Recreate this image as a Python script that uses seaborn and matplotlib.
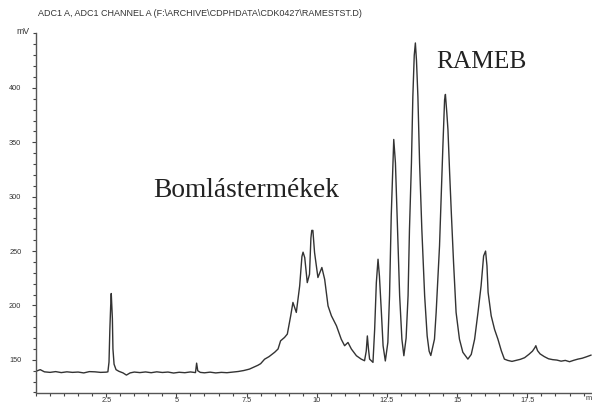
import matplotlib
matplotlib.use("Agg")
import matplotlib.pyplot as plt
from matplotlib.ticker import MultipleLocator, FixedLocator
import seaborn as sns
import pandas as pd

# Retention time (min) and detector signal (mV) of the RAMEB test run
time_min = [
    0.00, 0.15, 0.30, 0.50, 0.70, 0.90, 1.10, 1.30, 1.50, 1.70, 1.90, 2.10, 2.30, 2.50,
    2.56, 2.60, 2.63, 2.66, 2.68, 2.70, 2.72, 2.74, 2.78, 2.85, 2.95, 3.10, 3.22, 3.35,
    3.50, 3.70, 3.90, 4.10, 4.30, 4.50, 4.70, 4.90, 5.10, 5.30, 5.50, 5.68, 5.72, 5.76,
    5.85, 6.00, 6.20, 6.40, 6.60, 6.80, 7.00, 7.20, 7.40, 7.60, 7.73, 7.90, 8.00, 8.14,
    8.30, 8.50, 8.62, 8.71, 8.85, 8.95, 9.07, 9.15, 9.27, 9.39, 9.47, 9.51, 9.57, 9.66,
    9.74, 9.79, 9.82, 9.86, 9.92, 10.04, 10.18, 10.28, 10.40, 10.52, 10.70, 10.87, 10.99,
    11.11, 11.23, 11.41, 11.58, 11.70, 11.76, 11.80, 11.84, 11.88, 12.00, 12.06, 12.12,
    12.18, 12.23, 12.30, 12.36, 12.44, 12.53, 12.59, 12.65, 12.71, 12.74, 12.80, 12.86,
    12.95, 13.03, 13.10, 13.18, 13.25, 13.30, 13.37, 13.42, 13.47, 13.51, 13.55, 13.60,
    13.66, 13.74, 13.84, 13.93, 14.00, 14.06, 14.19, 14.25, 14.37, 14.43, 14.49, 14.55,
    14.58, 14.63, 14.67, 14.73, 14.79, 14.87, 14.96, 15.08, 15.20, 15.38, 15.50, 15.62,
    15.74, 15.85, 15.94, 16.01, 16.06, 16.10, 16.21, 16.33, 16.45, 16.57, 16.68, 16.80,
    16.95, 17.10, 17.25, 17.40, 17.55, 17.68, 17.76, 17.80, 17.86, 17.95, 18.10, 18.25,
    18.40, 18.55, 18.70, 18.85, 19.00, 19.15, 19.30, 19.45, 19.60, 19.77,
]
signal_mv = [
    139.5, 141.0, 139.0, 138.5, 139.2, 138.3, 139.0, 138.5, 138.8, 138.0, 139.2, 139.0, 138.5, 138.7,
    139.0, 148.0, 178.0, 200.0, 211.0, 200.0, 188.0, 160.0, 146.0, 141.0, 139.5, 138.0, 136.0, 138.0,
    138.8, 138.3, 138.9, 138.2, 139.0, 138.4, 138.8, 137.9, 138.6, 138.2, 138.9, 138.3, 147.0, 140.0,
    138.5, 138.1, 138.7, 138.0, 138.5, 138.2, 138.8, 139.3, 140.2, 141.5, 143.0, 145.0, 146.5, 150.6,
    153.0, 157.0, 160.0, 167.5, 170.6, 173.7, 190.5, 202.8, 193.6, 218.0, 245.0, 249.0, 244.0, 221.0,
    228.7, 262.0, 269.0, 269.0, 248.6, 225.7, 234.9, 224.0, 199.6, 190.5, 181.3, 169.0, 163.0,
    166.0, 160.0, 153.8, 150.7, 149.2, 158.0, 172.0, 160.0, 150.7, 147.7, 178.0, 221.0,
    242.5, 227.0, 193.6, 163.0, 149.0, 166.0, 209.0, 282.0, 331.0, 352.6, 331.0, 282.0,
    209.0, 169.0, 153.8, 170.0, 209.0, 270.0, 331.0, 392.0, 430.0, 441.3, 425.0, 392.0,
    331.0, 270.0, 209.0, 172.0, 158.0, 154.0, 169.0, 193.6, 254.7, 300.6, 346.4, 389.0,
    394.0, 377.0, 361.7, 322.0, 285.3, 239.4, 193.6, 169.0, 157.0, 150.7, 155.0, 169.0,
    193.6, 218.0, 245.5, 250.0, 236.3, 212.0, 190.5, 178.0, 169.0, 158.4, 150.7, 149.5,
    148.6, 149.5, 150.5, 152.0, 155.0, 158.0, 161.0, 163.0, 158.5, 155.5, 153.0, 151.0,
    150.2, 149.8, 148.8, 149.5, 148.3, 149.6, 150.7, 151.5, 152.8, 154.4,
]

x_major = [2.5, 5, 7.5, 10, 12.5, 15, 17.5]
x_labels = ["2.5", "5", "7.5", "10", "12.5", "15", "17.5"]
y_major = [150, 200, 250, 300, 350, 400]
y_labels = ["150", "200", "250", "300", "350", "400"]

header = r"ADC1 A, ADC1 CHANNEL A (F:\ARCHIVE\CDPHDATA\CDK0427\RAMESTST.D)"

df = pd.DataFrame({"time": time_min, "signal": signal_mv})

sns.set_style("ticks")
plt.rcParams["font.family"] = ["Liberation Sans", "DejaVu Sans"]

fig = plt.figure(figsize=(5.92, 4.05), dpi=100)
ax = fig.add_axes([36 / 592, 12.5 / 405, 556 / 592, 359 / 405])

sns.lineplot(data=df, x="time", y="signal", ax=ax, color="#333333",
             linewidth=1.0, estimator=None)

ax.set_xlim(0, 19.8)
ax.set_ylim(120, 450)
ax.set_xlabel("")
ax.set_ylabel("")

ax.xaxis.set_major_locator(FixedLocator(x_major))
ax.set_xticklabels(x_labels)
ax.xaxis.set_minor_locator(MultipleLocator(0.5))
ax.yaxis.set_major_locator(FixedLocator(y_major))
ax.set_yticklabels(y_labels)
ax.yaxis.set_minor_locator(MultipleLocator(10))

ax.tick_params(axis="both", which="major", length=3, width=0.8, color="#444444",
               labelsize=5.3, labelcolor="#333333")
ax.tick_params(axis="both", which="minor", length=2.5, width=0.8, color="#444444")
ax.tick_params(axis="x", which="major", pad=0.5)
ax.tick_params(axis="y", which="major", pad=7.5)

for side in ("top", "right"):
    ax.spines[side].set_visible(False)
for side in ("left", "bottom"):
    ax.spines[side].set_color("#555555")
    ax.spines[side].set_linewidth(1.0)

fig.text(38 / 592, 1 - 14 / 405, header, fontsize=6.5, color="#333333", va="center", ha="left")
fig.text(30 / 592, 1 - 32 / 405, "mV", fontsize=6.3, color="#333333", va="center", ha="right")
fig.text(586 / 592, 1 - 399 / 405, "m", fontsize=5.3, color="#333333", va="center", ha="left")

ax.text(7.5, 306, "Bomlástermékek", family=["Liberation Serif", "DejaVu Serif"],
        fontsize=19.7, color="#222222", ha="center", va="center")
ax.text(15.88, 424, "RAMEB", family=["Liberation Serif", "DejaVu Serif"],
        fontsize=18.3, color="#222222", ha="center", va="center")

fig.savefig("out.png", dpi=100)
